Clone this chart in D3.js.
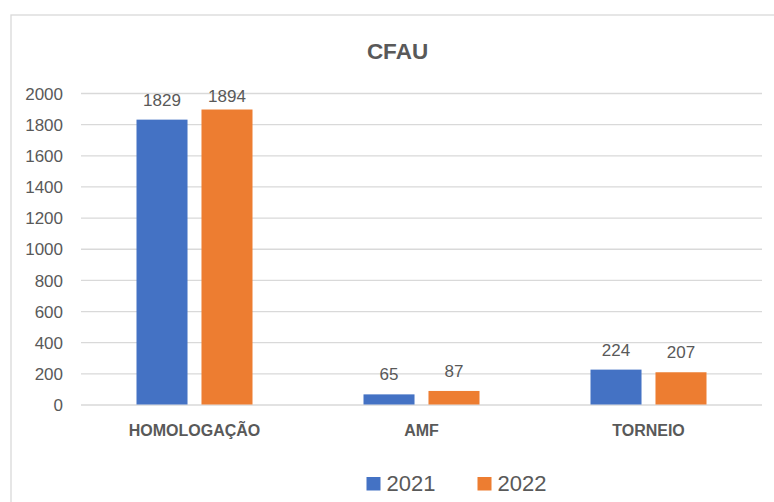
<!DOCTYPE html>
<html>
<head>
<meta charset="utf-8">
<script src="https://cdn.jsdelivr.net/npm/d3@7"></script>
<style>
  html, body { margin: 0; padding: 0; background: #fff; }
  svg { display: block; font-family: "Liberation Sans", Arial, sans-serif; }
</style>
</head>
<body>
<svg id="chart" width="774" height="502"></svg>
<script>
// Chart data
const title = "CFAU";
const categories = ["HOMOLOGAÇÃO", "AMF", "TORNEIO"];
const seriesNames = ["2021", "2022"];
const values2021 = [1829, 65, 224];
const values2022 = [1894, 87, 207];
const yTicks = [0, 200, 400, 600, 800, 1000, 1200, 1400, 1600, 1800, 2000];
const colors = ["#4472C4", "#ED7D31"];

const seriesValues = [values2021, values2022];
const rows = categories.map((c, i) => ({
  category: c,
  items: seriesNames.map((s, j) => ({ series: s, value: seriesValues[j][i], color: colors[j] }))
}));

const svg = d3.select("#chart");
const textColor = "#595959";
const gridColor = "#d9d9d9";

// Outer chart frame
svg.append("rect")
  .attr("x", 11).attr("y", 15)
  .attr("width", 800).attr("height", 520)
  .attr("fill", "#fff")
  .attr("stroke", gridColor).attr("stroke-width", 1.3);

const plot = { left: 81, right: 762, top: 93, bottom: 404.5 };

const y = d3.scaleLinear().domain([0, 2000]).range([plot.bottom, plot.top]);
const x0 = d3.scaleBand().domain(categories).range([plot.left, plot.right])
  .paddingInner(0.489).paddingOuter(0.2445);
const x1 = d3.scaleBand().domain(seriesNames).range([0, x0.bandwidth()])
  .paddingInner(0.215).paddingOuter(0);

// Gridlines and value axis labels
const yAxis = d3.axisLeft(y).tickValues(yTicks).tickFormat(d3.format("d"))
  .tickSize(-(plot.right - plot.left)).tickPadding(18);
const gy = svg.append("g").attr("transform", `translate(${plot.left},0)`).call(yAxis);
gy.select(".domain").remove();
gy.selectAll(".tick line").attr("stroke", gridColor).attr("stroke-width", 1.3);
gy.selectAll(".tick text")
  .attr("fill", textColor)
  .style("font-size", "17px")
  .attr("dy", "0.36em");

// Title
svg.append("text")
  .attr("x", 397.5).attr("y", 58.5)
  .attr("text-anchor", "middle")
  .attr("fill", textColor)
  .style("font-size", "22.5px").style("font-weight", "bold")
  .text(title);

// Bars
const groups = svg.selectAll("g.cat").data(rows).join("g")
  .attr("class", "cat")
  .attr("transform", d => `translate(${x0(d.category)},0)`);

groups.selectAll("rect").data(d => d.items).join("rect")
  .attr("x", d => x1(d.series))
  .attr("y", d => y(d.value))
  .attr("width", x1.bandwidth())
  .attr("height", d => y(0) - y(d.value))
  .attr("fill", d => d.color);

// Value labels above bars (kept below the top of the plot area)
groups.selectAll("text.val").data(d => d.items).join("text")
  .attr("class", "val")
  .attr("x", d => x1(d.series) + x1.bandwidth() / 2)
  .attr("y", d => Math.max(y(d.value) - 14, plot.top + 9))
  .attr("text-anchor", "middle")
  .attr("fill", textColor)
  .style("font-size", "17px")
  .text(d => d.value);

// Category axis labels
const xAxis = d3.axisBottom(x0).tickSize(0).tickPadding(0);
const gx = svg.append("g").attr("transform", `translate(0,${plot.bottom})`).call(xAxis);
gx.select(".domain").remove();
gx.selectAll(".tick text")
  .attr("y", 31.5).attr("dy", null)
  .attr("fill", textColor)
  .style("font-size", "16px").style("font-weight", "bold");

// Legend
const legendItems = [
  { name: seriesNames[0], color: colors[0], x: 366.5 },
  { name: seriesNames[1], color: colors[1], x: 477.5 }
];
const lg = svg.append("g");
legendItems.forEach(item => {
  lg.append("rect")
    .attr("x", item.x).attr("y", 477)
    .attr("width", 14).attr("height", 13.5)
    .attr("fill", item.color);
  lg.append("text")
    .attr("x", item.x + 20).attr("y", 491)
    .attr("fill", textColor)
    .style("font-size", "22px")
    .text(item.name);
});
</script>
</body>
</html>
